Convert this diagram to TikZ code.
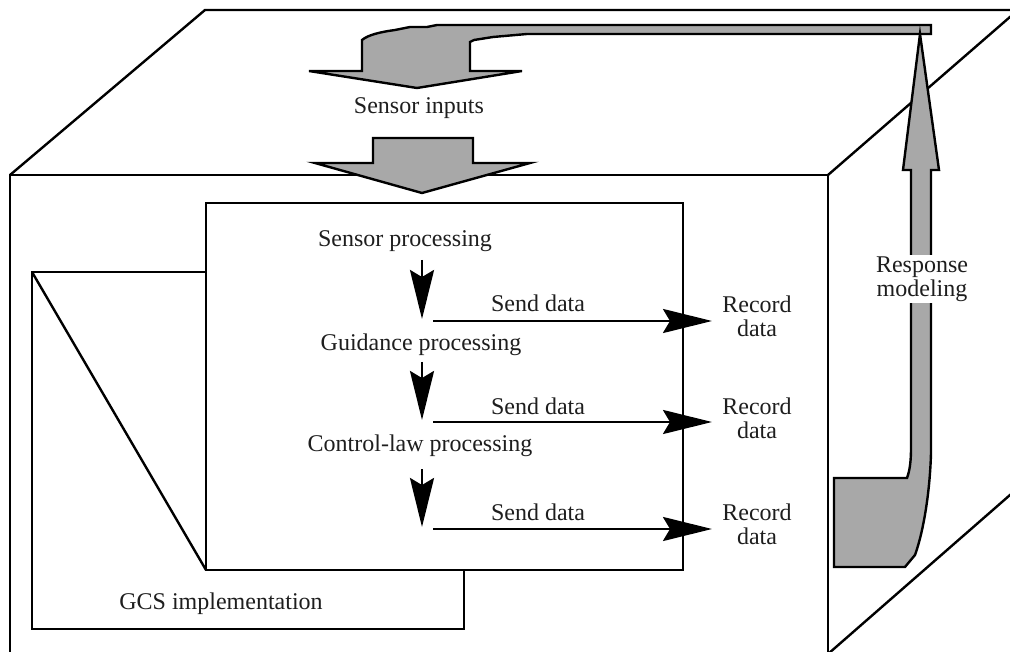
\documentclass[tikz,border=0pt]{standalone}
\usepackage{fontspec}
\setmainfont{Liberation Serif}
\usetikzlibrary{arrows.meta}
\definecolor{arrowgray}{RGB}{168,168,168}
\definecolor{inkgray}{RGB}{30,30,30}
\begin{document}
\begin{tikzpicture}[x=1pt,y=-1pt,
  lbl/.style={font=\fontsize{24}{24}\selectfont, text=inkgray, inner sep=0pt, align=center},
  edge/.style={line width=2.4pt},
  flow/.style={line width=2.6pt, -{Stealth[length=49pt,width=24pt,inset=7pt]}},
  bigarrow/.style={fill=arrowgray, draw=black, line width=2.4pt, line join=miter},
  box/.style={draw=black, fill=white, line width=2.6pt}]
\useasboundingbox (0,0) rectangle (1010,652);
\clip (0,0) rectangle (1010,652);
% cube
\coordinate (FTL) at (10,175);
\coordinate (FTR) at (828,175);
\coordinate (FBL) at (10,660);
\coordinate (FBR) at (828,654);
\coordinate (BTL) at (205,10);
\coordinate (BTR) at (1018,10);
\coordinate (BBR) at (1018,488);
\draw[edge] (FBL) -- (FTL) -- (FTR) -- (FBR);
\draw[edge] (FTL) -- (BTL) -- (BTR);
\draw[edge] (FTR) -- (BTR);
\draw[edge] (FBR) -- (BBR);
% gray flow arrows
\draw[bigarrow] (309,71) -- (362,71) -- (362,40) .. controls (368,35) and (380,32) .. (395,30) -- (410,27) -- (427,27) -- (437,25) -- (931,25) -- (931,34) -- (527,34) -- (493,37) -- (474,40) -- (470,42) -- (470,71) -- (522,71) -- (417,88) -- cycle;
\node[lbl] (inputs) at (419,108) {Sensor inputs};
\draw[bigarrow] (315,163) -- (373,163) -- (373,138) -- (473,138) -- (473,163) -- (530,163) -- (422,193) -- cycle;
\draw[bigarrow] (920,34) -- (939,170) -- (931,170) -- (931,453) .. controls (930,490) and (924,530) .. (915,555) -- (905,567) -- (834,567) -- (834,478) -- (907,478) .. controls (910,470) and (911,460) .. (911,448) -- (911,170) -- (903,170) -- cycle;
\node[lbl, fill=white, inner sep=2pt] (resp) at (922,279) {Response\\modeling};
% GCS implementation box
\draw[box] (32,272) rectangle (464,629);
\coordinate (gcsTL) at (32,272);
\coordinate (procBL) at (206,570);
\draw[edge] (gcsTL) -- (procBL);
\node[lbl] (gcs) at (221,604) {GCS implementation};
% processing box
\draw[box] (206,203) rectangle (683,570);
\node[lbl] (sp) at (405,241) {Sensor processing};
\node[lbl] (gp) at (421,345) {Guidance processing};
\node[lbl] (cp) at (420,446) {Control-law processing};
\coordinate (d1s) at (422,260); \coordinate (d1e) at (422,319);
\coordinate (d2s) at (422,362); \coordinate (d2e) at (422,420);
\coordinate (d3s) at (422,469); \coordinate (d3e) at (422,527);
\draw[flow] (d1s) -- (d1e);
\draw[flow] (d2s) -- (d2e);
\draw[flow] (d3s) -- (d3e);
\coordinate (h1s) at (433,321); \coordinate (h1e) at (712,321);
\coordinate (h2s) at (433,422); \coordinate (h2e) at (712,422);
\coordinate (h3s) at (433,529); \coordinate (h3e) at (712,529);
\draw[flow] (h1s) -- (h1e);
\draw[flow] (h2s) -- (h2e);
\draw[flow] (h3s) -- (h3e);
\node[lbl] (s1) at (538,303) {Send data};
\node[lbl] (s2) at (538,406) {Send data};
\node[lbl] (s3) at (538,512) {Send data};
\node[lbl] (r1) at (757,316) {Record\\data};
\node[lbl] (r2) at (757,418) {Record\\data};
\node[lbl] (r3) at (757,524) {Record\\data};
\end{tikzpicture}
\end{document}
